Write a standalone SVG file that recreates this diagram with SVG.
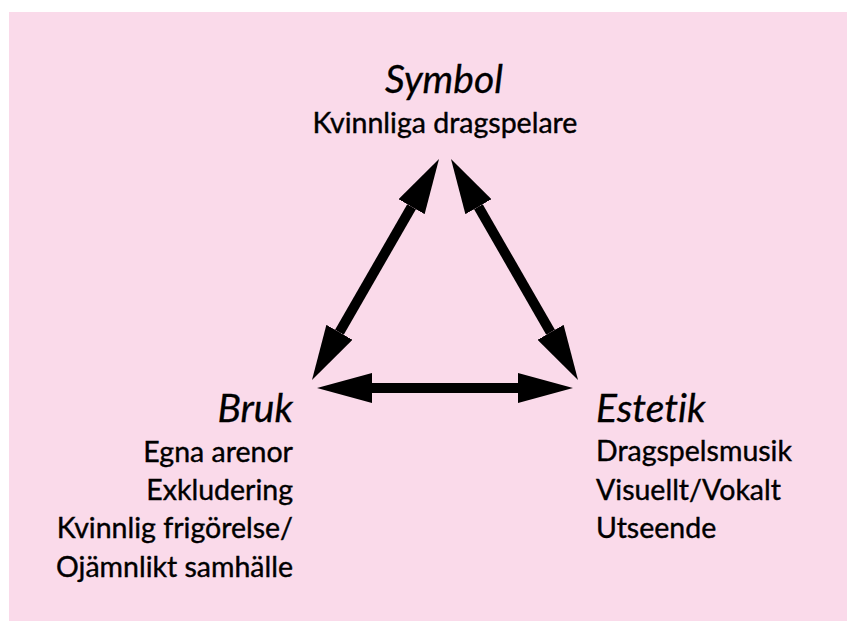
<svg xmlns="http://www.w3.org/2000/svg" width="847" height="621" viewBox="0 0 847 621">
<style>
.h{font-family:Lato,"Noto Sans",sans-serif;font-style:italic;font-size:39px;fill:#000;font-variant-ligatures:none;stroke:#000;stroke-width:0.3}
.b{font-family:Lato,"Noto Sans",sans-serif;font-size:28.5px;fill:#000;font-variant-ligatures:none;stroke:#000;stroke-width:0.4}
.c{stroke:#000;stroke-width:10;fill:none}
</style>
<defs>
<marker id="ah" markerUnits="userSpaceOnUse" viewBox="0 0 55 30" markerWidth="55" markerHeight="30" refX="0" refY="15" orient="auto-start-reverse"><path d="M0,0 L55,15 L0,30 z" fill="#000"/></marker>
</defs>
<rect x="9" y="12" width="838" height="609" fill="#fadaea"/>
<g id="connectors">
<line class="c" x1="411.6" y1="206.7" x2="339.4" y2="332.3" marker-start="url(#ah)" marker-end="url(#ah)"/>
<line class="c" x1="478.4" y1="206.7" x2="550.6" y2="332.3" marker-start="url(#ah)" marker-end="url(#ah)"/>
<line class="c" x1="372" y1="388" x2="518" y2="388" marker-start="url(#ah)" marker-end="url(#ah)"/>
</g>
<g id="symbol" text-anchor="middle">
<text class="h" x="444" y="93">Symbol</text>
<text class="b" x="445" y="133">Kvinnliga dragspelare</text>
</g>
<g id="bruk" text-anchor="end">
<text class="h" x="293" y="422">Bruk</text>
<text class="b" x="293" y="462">Egna arenor</text>
<text class="b" x="293" y="500">Exkludering</text>
<text class="b" x="293" y="538">Kvinnlig frigörelse/</text>
<text class="b" x="293" y="577">Ojämnlikt samhälle</text>
</g>
<g id="estetik">
<text class="h" x="596" y="422">Estetik</text>
<text class="b" x="596" y="461">Dragspelsmusik</text>
<text class="b" x="596" y="500">Visuellt/Vokalt</text>
<text class="b" x="596" y="538">Utseende</text>
</g>
</svg>
